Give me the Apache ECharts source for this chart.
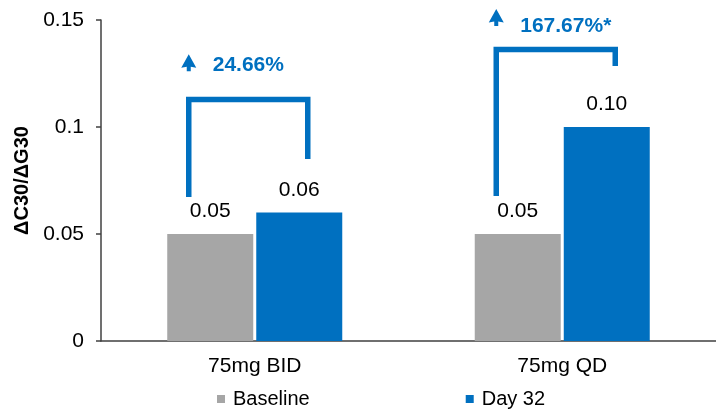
<!DOCTYPE html>
<html><head><meta charset="utf-8">
<script src="https://cdn.jsdelivr.net/npm/echarts@6/dist/echarts.min.js"></script>
<style>html,body{margin:0;padding:0;background:#fff}#c{width:716px;height:414px}</style>
</head><body><div id="c"></div>
<script>
// ---- data ----
const categories = ['75mg BID', '75mg QD'];
const baseline = [0.05, 0.05];
const day32 = [0.06, 0.10];
const yMin = 0, yMax = 0.15, yStep = 0.05;
const changeLabels = ['24.66%', '167.67%*'];
const bracketLeftEnd = [0.0673, 0.0678];
const bracketTop = [0.1129, 0.1362];
const bracketRightEnd = [0.085, 0.1285];
const changeLabelLevel = [0.129, 0.1472];
const arrowLevel = [0.130, 0.1512];

// ---- styles ----
const BLUE = '#0070C0', GRAY = '#A6A6A6', FONT = '"Liberation Sans", Arial, sans-serif';
const LEG_L = -66, LEG_R = 53, TEXT_DX = 24;

const bracketData = categories.map((c, i) => [i, bracketLeftEnd[i], bracketTop[i], bracketRightEnd[i], changeLabelLevel[i], arrowLevel[i]]);

const chart = echarts.init(document.getElementById('c'), null, {renderer: 'canvas'});
chart.setOption({
  animation: false,
  textStyle: {fontFamily: FONT},
  grid: {left: 101, right: -4, top: 20, bottom: 73, containLabel: false},
  legend: {
    data: ['Baseline', 'Day 32'],
    left: 212, bottom: 0,
    itemWidth: 8, itemHeight: 8, itemGap: 156,
    icon: 'rect',
    textStyle: {fontSize: 20, color: '#000', fontFamily: FONT, padding: [0, 0, 0, 3]}
  },
  xAxis: {
    type: 'category', data: categories,
    axisLine: {lineStyle: {color: '#404040', width: 1.5}},
    axisTick: {show: false},
    axisLabel: {fontSize: 21, color: '#000', margin: 15, fontFamily: FONT}
  },
  yAxis: {
    type: 'value', min: yMin, max: yMax, interval: yStep,
    name: 'ΔC30/ΔG30', nameLocation: 'middle', nameGap: 60, nameRotate: 90,
    nameTextStyle: {fontSize: 20, fontWeight: 'bold', color: '#000', fontFamily: FONT},
    axisLine: {show: true, lineStyle: {color: '#404040', width: 1.5}},
    axisTick: {show: true, length: 5, lineStyle: {color: '#404040', width: 1.5}},
    splitLine: {show: false},
    axisLabel: {fontSize: 21, color: '#000', margin: 17, fontFamily: FONT,
      formatter: v => String(+v.toFixed(2))}
  },
  series: [
    {
      name: 'Baseline', type: 'bar', data: baseline,
      barWidth: 86, barGap: '3.5%',
      itemStyle: {color: GRAY},
      label: {show: true, position: 'top', distance: 12, fontSize: 21, color: '#000', fontFamily: FONT,
        formatter: p => p.value.toFixed(2)}
    },
    {
      name: 'Day 32', type: 'bar', data: day32,
      barWidth: 86, barGap: '3.5%',
      itemStyle: {color: BLUE},
      label: {show: true, position: 'top', distance: 12, fontSize: 21, color: '#000', fontFamily: FONT,
        formatter: p => p.value.toFixed(2)}
    },
    {
      type: 'custom', z: 5, silent: true,
      data: bracketData,
      encode: {x: 0, y: [1, 2, 3]},
      renderItem: (params, api) => {
        const i = api.value(0);
        const cx = api.coord([i, 0])[0];
        const xl = cx + LEG_L, xr = cx + LEG_R;
        const yl = api.coord([i, api.value(1)])[1];
        const yt = api.coord([i, api.value(2)])[1];
        const yr = api.coord([i, api.value(3)])[1];
        const ty = api.coord([i, api.value(4)])[1];
        const ay = api.coord([i, api.value(5)])[1];
        return {
          type: 'group',
          children: [
            {type: 'polyline', shape: {points: [[xl, yl], [xl, yt], [xr, yt], [xr, yr]]},
              style: {stroke: BLUE, lineWidth: 5.5, fill: null, lineJoin: 'miter', lineCap: 'butt'}},
            {type: 'polygon', shape: {points: [[xl, ay - 8.5], [xl + 7.5, ay + 5], [xl + 2, ay + 4], [xl + 2, ay + 8.5], [xl - 2, ay + 8.5], [xl - 2, ay + 4], [xl - 7.5, ay + 5]]},
              style: {fill: BLUE}},
            {type: 'text', x: xl + TEXT_DX, y: ty,
              style: {text: changeLabels[params.dataIndex], fill: BLUE, fontSize: 21, fontWeight: 'bold', fontFamily: FONT, align: 'left', verticalAlign: 'middle'}}
          ]
        };
      }
    }
  ]
});
</script>
</body></html>
